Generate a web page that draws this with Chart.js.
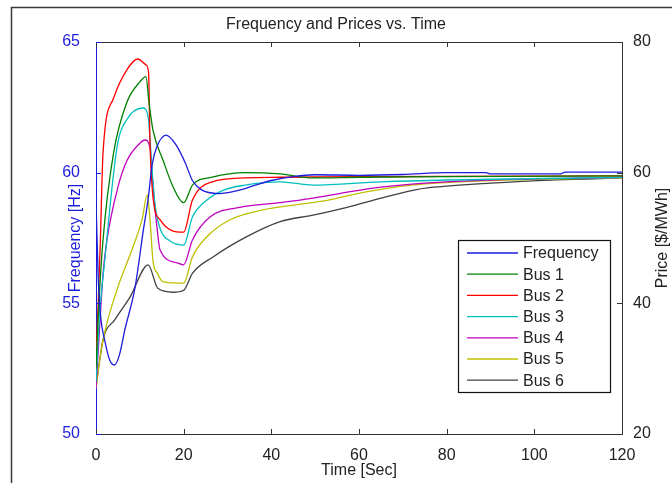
<!DOCTYPE html>
<html>
<head>
<meta charset="utf-8">
<script src="https://cdn.jsdelivr.net/npm/chart.js@4.4.0/dist/chart.umd.min.js"></script>
<style>
  html, body { margin: 0; padding: 0; background: #fff; }
  #wrap { width: 672px; height: 483px; position: relative; }
</style>
</head>
<body>
<div id="wrap"><canvas id="freqPriceChart"></canvas></div>
<script>
// time [sec] / value pairs
const freqTime  = [0, 0.5, 1, 2.1, 3.2, 4.2, 5.3, 6.6, 8.9, 10.8, 11.9, 12.8, 13.9, 16, 18.5, 20.3, 22, 24, 28, 32, 36, 40, 45, 50, 60, 70, 80, 89, 90, 106, 107, 120];
const freqHz    = [58.9, 56.0, 54.6, 53.5, 52.8, 52.64, 53.0, 54.0, 55.6, 57.8, 59.0, 60.3, 61.0, 61.44, 61.0, 60.4, 59.7, 59.35, 59.2, 59.3, 59.5, 59.7, 59.85, 59.92, 59.9, 59.93, 60.0, 60.0, 59.95, 59.95, 60.02, 60.02];

const bus1Time  = [0, 0.5, 1.6, 4, 7, 10, 11.4, 12.1, 13, 15.3, 17.6, 20, 22, 26.5, 34, 42, 49.5, 60, 80, 120];
const bus1Price = [30, 38, 49.7, 63.0, 70.7, 73.9, 74.7, 70.7, 66.5, 61.9, 57.8, 55.4, 58.1, 59.3, 60.0, 59.8, 59.2, 59.3, 59.4, 59.5];

const bus2Time  = [0, 0.5, 1, 1.6, 4, 7, 9.5, 11.4, 12, 12.3, 13, 14.6, 20, 22, 26.5, 34, 42, 60, 120];
const bus2Price = [32, 40, 49.7, 63.0, 71.4, 75.7, 77.4, 76.5, 75.3, 65.0, 56.3, 52.8, 50.9, 55.8, 58.6, 59.2, 59.3, 59.4, 59.5];

const bus3Time  = [0, 0.8, 2, 4.8, 7, 10.7, 11.9, 12.8, 13.5, 14.6, 17, 20, 22, 25.3, 29, 34, 42, 49.5, 65, 120];
const bus3Price = [28, 38, 46.6, 63.9, 68.1, 69.9, 68.5, 60.4, 55.0, 51.5, 49.5, 48.9, 53.2, 55.8, 57.3, 58.1, 58.6, 58.1, 58.6, 59.3];

const bus4Time  = [0, 0.8, 1.6, 2.5, 5, 7.1, 10, 11.2, 12.3, 13, 13.9, 14.6, 18.5, 20, 22, 26, 32.8, 42, 49.5, 57, 65, 80, 120];
const bus4Price = [27, 36, 44.5, 49.7, 57.8, 61.9, 64.5, 65.0, 63.9, 57.8, 51.7, 48.2, 46.2, 45.9, 49.7, 53.2, 54.7, 55.4, 56.1, 57.0, 57.8, 58.6, 59.3];

const bus5Time  = [0, 1, 2.1, 5, 8.2, 10.5, 11.7, 12.3, 13, 14, 15.3, 20, 22, 25.3, 30.6, 38, 45.8, 53, 61, 72, 90, 120];
const bus5Price = [27, 32, 35.9, 42.5, 48.2, 52.8, 56.6, 53.0, 46.5, 44.6, 43.3, 43.1, 47.1, 50.2, 52.8, 54.3, 55.1, 55.8, 57.0, 58.1, 58.8, 59.2];

const bus6Time  = [0, 1.6, 4.3, 7.8, 11.9, 14.1, 17.6, 20, 22, 26.7, 34.4, 42, 49.5, 57.3, 65, 72.3, 76, 90, 105, 120];
const bus6Price = [27.2, 34.4, 37.5, 41.0, 45.9, 42.3, 41.7, 42.0, 44.6, 47.1, 50.2, 52.5, 53.5, 54.7, 56.1, 57.3, 57.7, 58.4, 58.9, 59.2];

const seriesLabels = ['Frequency', 'Bus 1', 'Bus 2', 'Bus 3', 'Bus 4', 'Bus 5', 'Bus 6'];
const seriesColors = ['#1c1cdc', '#008000', '#ff0000', '#00bfbf', '#bf00bf', '#bfbf00', '#404040'];

const xTicks = [0, 20, 40, 60, 80, 100, 120];
const hzTicks = [50, 55, 60, 65];
const priceTicks = [20, 40, 60, 80];
const priceTitle = 'Price [$/MWh]';

const FONT = "'Liberation Sans', Arial, sans-serif";
const AXIS_BLUE = '#1c1cdc';
const INK = '#222';

const toPoints = (xs, ys) => xs.map((x, i) => ({ x: x, y: ys[i] }));

const seriesData = [
    toPoints(freqTime, freqHz),
    toPoints(bus1Time, bus1Price),
    toPoints(bus2Time, bus2Price),
    toPoints(bus3Time, bus3Price),
    toPoints(bus4Time, bus4Price),
    toPoints(bus5Time, bus5Price),
    toPoints(bus6Time, bus6Price)
];

// outer figure frame (left + top edges only, like the cropped screenshot)
const figureFrame = {
    id: 'figureFrame',
    beforeDraw(chart) {
        const ctx = chart.ctx;
        ctx.save();
        ctx.strokeStyle = '#3a3a3a';
        ctx.lineWidth = 1.5;
        ctx.beginPath();
        ctx.moveTo(11.5, 483);
        ctx.lineTo(11.5, 7.5);
        ctx.lineTo(672, 7.5);
        ctx.stroke();
        ctx.restore();
    }
};

// MATLAB-style inward tick marks, top box edge, right axis title reading upward
const inwardTicks = {
    id: 'inwardTicks',
    afterDraw(chart) {
        const { ctx, chartArea: a, scales } = chart;
        const len = 5;
        ctx.save();
        ctx.lineWidth = 1;
        const seg = (x1, y1, x2, y2) => { ctx.beginPath(); ctx.moveTo(x1, y1); ctx.lineTo(x2, y2); ctx.stroke(); };

        ctx.strokeStyle = '#333';
        seg(a.left, a.top + 0.5, a.right, a.top + 0.5);
        scales.x.ticks.forEach(t => {
            const px = Math.round(scales.x.getPixelForValue(t.value)) + 0.5;
            seg(px, a.bottom, px, a.bottom - len);
            seg(px, a.top, px, a.top + len);
        });
        scales.y1.ticks.forEach(t => {
            const py = Math.round(scales.y1.getPixelForValue(t.value)) + 0.5;
            seg(a.right, py, a.right - len, py);
        });
        ctx.strokeStyle = AXIS_BLUE;
        scales.y.ticks.forEach(t => {
            const py = Math.round(scales.y.getPixelForValue(t.value)) + 0.5;
            seg(a.left, py, a.left + len, py);
        });

        ctx.translate(663, (a.top + a.bottom) / 2);
        ctx.rotate(-Math.PI / 2);
        ctx.font = '16px ' + FONT;
        ctx.fillStyle = INK;
        ctx.textAlign = 'center';
        ctx.textBaseline = 'middle';
        ctx.fillText(priceTitle, 0, 0);
        ctx.restore();
    }
};

// boxed legend sitting inside the plot, lower right
const boxLegend = {
    id: 'boxLegend',
    afterDatasetsDraw(chart) {
        const { ctx, chartArea: a } = chart;
        const w = 152, h = 152;
        const left = a.right - 164, top = a.top + 198;
        ctx.save();
        ctx.fillStyle = '#fff';
        ctx.fillRect(left, top, w, h);
        ctx.strokeStyle = '#111';
        ctx.lineWidth = 1.2;
        ctx.strokeRect(left + 0.5, top + 0.5, w, h);
        ctx.font = '16px ' + FONT;
        ctx.textBaseline = 'middle';
        chart.data.datasets.forEach((ds, i) => {
            const y = top + 13 + i * 21.2;
            ctx.strokeStyle = ds.borderColor;
            ctx.lineWidth = 1.3;
            ctx.beginPath();
            ctx.moveTo(left + 9, y);
            ctx.lineTo(left + 60, y);
            ctx.stroke();
            ctx.fillStyle = INK;
            ctx.fillText(ds.label, left + 65, y + 1);
        });
        ctx.restore();
    }
};

new Chart(document.getElementById('freqPriceChart').getContext('2d'), {
    type: 'line',
    data: {
        datasets: seriesData.map((pts, i) => ({
            label: seriesLabels[i],
            data: pts,
            yAxisID: i === 0 ? 'y' : 'y1',
            borderColor: seriesColors[i],
            backgroundColor: seriesColors[i],
            borderWidth: 1.3,
            pointRadius: 0,
            fill: false,
            cubicInterpolationMode: 'monotone'
        }))
    },
    options: {
        responsive: true,
        maintainAspectRatio: false,
        animation: false,
        layout: { padding: 0 },
        plugins: {
            legend: { display: false },
            tooltip: { enabled: false },
            title: {
                display: true,
                text: 'Frequency and Prices vs. Time',
                color: INK,
                font: { family: FONT, size: 16, weight: 'normal' },
                padding: { top: 15, bottom: 7.8 }
            }
        },
        scales: {
            x: {
                type: 'linear',
                min: 0,
                max: 120,
                afterFit: (s) => { s.height = 49; },
                afterBuildTicks: (s) => { s.ticks = xTicks.map(v => ({ value: v })); },
                grid: { display: false },
                border: { display: true, color: '#333', width: 1 },
                ticks: { color: INK, padding: 4, maxRotation: 0, autoSkip: false, font: { family: FONT, size: 16 } },
                title: {
                    display: true,
                    text: 'Time [Sec]',
                    color: INK,
                    font: { family: FONT, size: 16 },
                    padding: { top: 0, bottom: 3 }
                }
            },
            y: {
                position: 'left',
                min: 50,
                max: 65,
                afterFit: (s) => { s.width = 96; },
                afterBuildTicks: (s) => { s.ticks = hzTicks.map(v => ({ value: v })); },
                grid: { display: false },
                border: { display: true, color: AXIS_BLUE, width: 1 },
                ticks: { color: AXIS_BLUE, padding: 8, font: { family: FONT, size: 16 } },
                title: {
                    display: true,
                    text: 'Frequency [Hz]',
                    color: AXIS_BLUE,
                    font: { family: FONT, size: 16 },
                    padding: { top: 66, bottom: 0 }
                }
            },
            y1: {
                position: 'right',
                min: 20,
                max: 80,
                afterFit: (s) => { s.width = 50; },
                afterBuildTicks: (s) => { s.ticks = priceTicks.map(v => ({ value: v })); },
                grid: { display: false },
                border: { display: true, color: '#333', width: 1 },
                ticks: { color: INK, padding: 3, font: { family: FONT, size: 16 } },
                title: { display: false }
            }
        }
    },
    plugins: [figureFrame, inwardTicks, boxLegend]
});
</script>
</body>
</html>
